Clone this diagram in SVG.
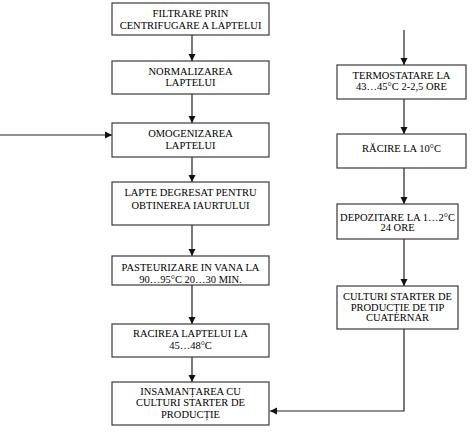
<svg xmlns="http://www.w3.org/2000/svg" width="474" height="434" viewBox="0 0 474 434">
<style>
.box{fill:#fff;stroke:#3a3a3a;stroke-width:1.2}
.t{font-family:'Liberation Serif','DejaVu Serif',serif;font-size:10.5px;fill:#000;text-anchor:middle}
.c{fill:none;stroke:#222;stroke-width:1.2}
</style>
<defs>
<marker id="ah" markerUnits="userSpaceOnUse" markerWidth="8" markerHeight="8" refX="7" refY="4" orient="auto">
<path d="M0,0.5 L7,4 L0,7.5 Z" fill="#111"/>
</marker>
</defs>
<rect width="474" height="434" fill="#fff"/>
<g id="connectors">
<line class="c" x1="192" y1="35" x2="192" y2="61" marker-end="url(#ah)"/>
<line class="c" x1="192" y1="94" x2="192" y2="123" marker-end="url(#ah)"/>
<line class="c" x1="0" y1="135" x2="112" y2="135" marker-end="url(#ah)"/>
<line class="c" x1="192" y1="157" x2="192" y2="182" marker-end="url(#ah)"/>
<line class="c" x1="192" y1="225" x2="192" y2="256" marker-end="url(#ah)"/>
<line class="c" x1="192" y1="285" x2="192" y2="324" marker-end="url(#ah)"/>
<line class="c" x1="192" y1="357" x2="192" y2="382" marker-end="url(#ah)"/>
<line class="c" x1="404" y1="30" x2="404" y2="65" marker-end="url(#ah)"/>
<line class="c" x1="404" y1="99" x2="404" y2="134" marker-end="url(#ah)"/>
<line class="c" x1="404" y1="168" x2="404" y2="204" marker-end="url(#ah)"/>
<line class="c" x1="404" y1="239" x2="404" y2="286" marker-end="url(#ah)"/>
<polyline class="c" points="404,329 404,411 270,411" marker-end="url(#ah)"/>
</g>
<g id="n1"><rect class="box" x="112" y="3" width="157" height="32"/>
<text class="t" x="190.5" y="17">FILTRARE PRIN</text><text class="t" x="190.5" y="29">CENTRIFUGARE A LAPTELUI</text></g>
<g id="n2"><rect class="box" x="112" y="61" width="157" height="33"/>
<text class="t" x="190.5" y="75">NORMALIZAREA</text><text class="t" x="190.5" y="86">LAPTELUI</text></g>
<g id="n3"><rect class="box" x="112" y="123" width="157" height="34"/>
<text class="t" x="190.5" y="137">OMOGENIZAREA</text><text class="t" x="190.5" y="149">LAPTELUI</text></g>
<g id="n4"><rect class="box" x="112" y="182" width="157" height="43"/>
<text class="t" x="190.5" y="196">LAPTE DEGRESAT PENTRU</text><text class="t" x="190.5" y="209">OBTINEREA IAURTULUI</text></g>
<g id="n5"><rect class="box" x="112" y="256" width="157" height="29"/>
<text class="t" x="190.5" y="271">PASTEURIZARE IN VANA LA</text><text class="t" x="190.5" y="283">90…95°C  20…30 MIN.</text></g>
<g id="n6"><rect class="box" x="112" y="324" width="157" height="33"/>
<text class="t" x="190.5" y="337">RACIREA LAPTELUI  LA</text><text class="t" x="190.5" y="349">45…48°C</text></g>
<g id="n7"><rect class="box" x="112" y="382" width="157" height="43"/>
<text class="t" x="190.5" y="395">INSAMANȚAREA CU</text><text class="t" x="190.5" y="406">CULTURI STARTER DE</text><text class="t" x="190.5" y="418">PRODUCȚIE</text></g>
<g id="n8"><rect class="box" x="337" y="65" width="129" height="34"/>
<text class="t" x="401.5" y="79">TERMOSTATARE LA</text><text class="t" x="401.5" y="90">43…45°C 2-2,5 ORE</text></g>
<g id="n9"><rect class="box" x="337" y="134" width="129" height="34"/>
<text class="t" x="401.5" y="152">RĂCIRE LA 10°C</text></g>
<g id="n10"><rect class="box" x="337" y="204" width="121" height="35"/>
<text class="t" x="397.5" y="221">DEPOZITARE LA 1…2°C</text><text class="t" x="397.5" y="231">24 ORE</text></g>
<g id="n11"><rect class="box" x="337" y="286" width="121" height="43"/>
<text class="t" x="397.5" y="300">CULTURI STARTER DE</text><text class="t" x="397.5" y="311">PRODUCȚIE DE TIP</text><text class="t" x="397.5" y="321">CUATERNAR</text></g>
</svg>
